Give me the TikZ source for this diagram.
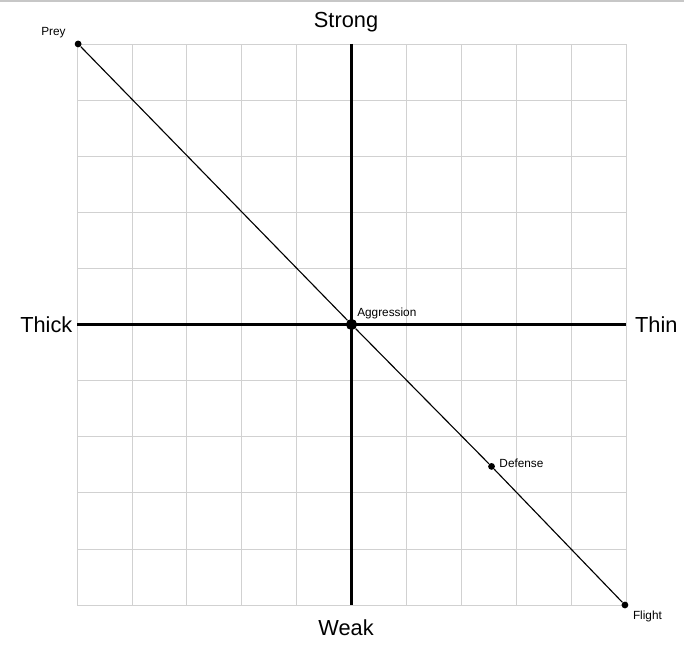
\documentclass[tikz,border=0pt]{standalone}
\usepackage{fontspec}
\setmainfont{Liberation Sans}
\usetikzlibrary{positioning}

\tikzset{
  gridline/.style={draw=black!18, line width=0.5pt},
  axis/.style={line width=2.1pt},
  bigdot/.style={circle, fill=black, inner sep=0pt, minimum size=0.28cm},
  smalldot/.style={circle, fill=black, inner sep=0pt, minimum size=0.17cm},
  axislabel/.style={inner sep=0pt, font=\fontsize{15.5}{18}\selectfont},
  pointlabel/.style={inner sep=0pt, font=\fontsize{8.4}{10}\selectfont}
}

\begin{document}
\begin{tikzpicture}[x=1.3725cm, y=1.4025cm]
  \useasboundingbox (-6.403,-6.194) rectangle (6.056,5.784);

  % top border
  \draw[black!22, line width=1pt] (-6.403,5.766) -- (6.056,5.766);

  % Grid
  \foreach \i in {-5,...,5} {
    \draw[gridline] (\i,-5) -- (\i,5);
    \draw[gridline] (-5,\i) -- (5,\i);
  }

  % Axes
  \coordinate (left) at (-5,0);
  \coordinate (right) at (5,0);
  \coordinate (top) at (0,5);
  \coordinate (bottom) at (0,-5);
  \draw[axis] (left) -- (right);
  \draw[axis] (top) -- (bottom);

  \node[axislabel, anchor=east] (thick) at (-5.08,0) {Thick};
  \node[axislabel, anchor=west] (thin) at (5.16,0) {Thin};
  \node[axislabel] (strong) at (-0.1,5.39) {Strong};
  \node[axislabel] (weak) at (-0.1,-5.41) {Weak};

  % Points on the diagonal
  \node[smalldot] (prey) at (-4.98,5.0) {};
  \node[bigdot] (aggression) at (0,0) {};
  \node[smalldot] (defense) at (2.55,-2.53) {};
  \node[smalldot] (flight) at (4.98,-5.0) {};
  \draw[line width=0.8pt] (prey) -- (aggression) -- (defense) -- (flight);

  \node[pointlabel] (preylab) at (-5.43,5.20) {Prey};
  \node[pointlabel, anchor=west] (agglab) at (0.10,0.205) {Aggression};
  \node[pointlabel, anchor=west] (deflab) at (2.69,-2.47) {Defense};
  \node[pointlabel] (flightlab) at (5.39,-5.21) {Flight};
\end{tikzpicture}
\end{document}
